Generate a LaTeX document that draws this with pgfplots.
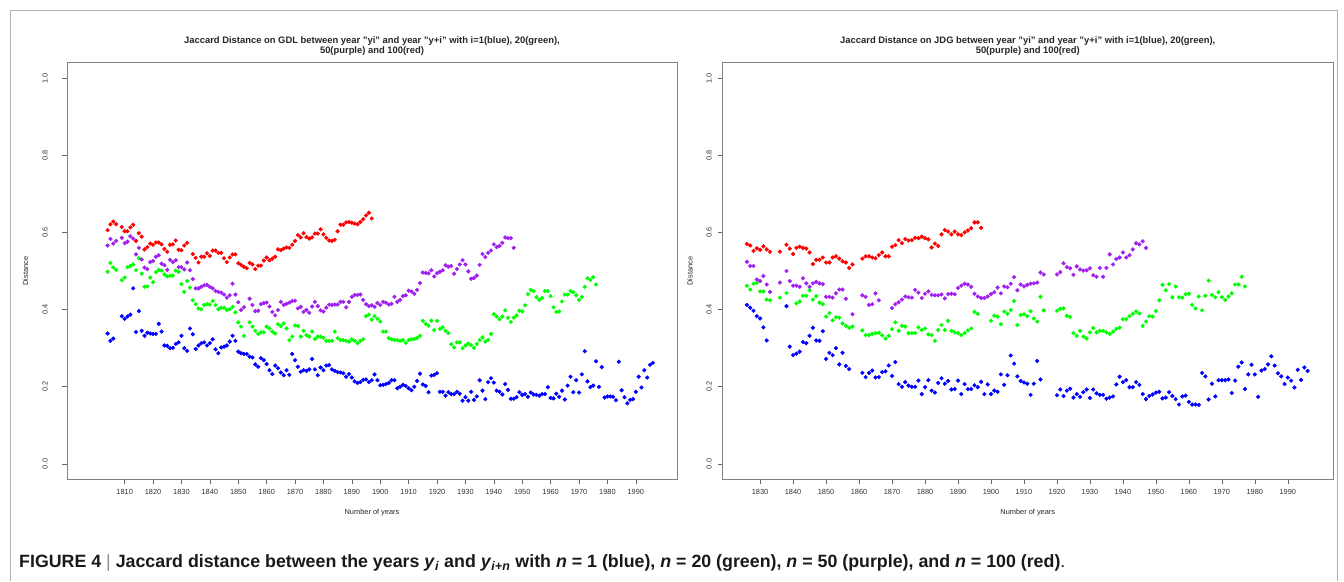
\documentclass[border=0pt]{standalone}
\usepackage{fontspec}
\setmainfont{Liberation Sans}
\usepackage{pgfplots}
\pgfplotsset{compat=1.18}
\definecolor{rblue}{RGB}{0,0,255}
\definecolor{rgreen}{RGB}{0,255,0}
\definecolor{rpurple}{RGB}{160,32,240}
\definecolor{rred}{RGB}{255,0,0}
\pgfplotsset{
  jd/.style={
    scale only axis, anchor=south west, height=416.8pt,
    ymin=-0.04, ymax=1.04,
    ytick={0,0.2,0.4,0.6,0.8,1.0},
    yticklabels={0.0,0.2,0.4,0.6,0.8,1.0},
    tick align=outside, major tick length=5pt,
    xtick pos=bottom, ytick pos=left,
    tick style={black!60, line width=0.6pt},
    axis line style={black!50, line width=0.7pt},
    xticklabel style={anchor=north, inner sep=0pt, font=\fontsize{7.4}{8}\selectfont, text=black!80},
    yticklabel style={rotate=90, anchor=south, inner sep=0pt, font=\fontsize{7.4}{8}\selectfont, text=black!80},
    xticklabel shift=5pt,
    xlabel={Number of years}, ylabel={Distance},
    xlabel style={at={(axis description cs:0.5,0)}, anchor=center, yshift=-33.5pt, font=\fontsize{7.4}{8}\selectfont, text=black!85},
    ylabel style={anchor=center, font=\fontsize{7.4}{8}\selectfont, text=black!85},
    title style={at={(axis description cs:0.5,1)}, anchor=center, yshift=10.6pt, align=center, font=\fontsize{9.4}{10.2}\selectfont\bfseries, text=black!85},
    clip=false,
  },
  dots/.style={only marks, mark=*, mark size=1.9pt, color=#1, fill=#1},
}
\begin{document}
\begin{tikzpicture}
\path[use as bounding box] (0pt,0pt) rectangle (1344pt,581pt);
\draw[black!30, line width=0.8pt] (10pt,0pt) -- (10pt,571pt) -- (1337pt,571pt) -- (1337pt,0pt);

% ---------------- Left panel (GDL) ----------------
\begin{axis}[jd, at={(67pt,101.6pt)}, width=610pt,
  xmin=1789.7, xmax=2004.5,
  xtick={1810,1820,1830,1840,1850,1860,1870,1880,1890,1900,1910,1920,1930,1940,1950,1960,1970,1980,1990},
  xticklabels={1810,1820,1830,1840,1850,1860,1870,1880,1890,1900,1910,1920,1930,1940,1950,1960,1970,1980,1990},
  yticklabel shift=14pt,
  ylabel style={at={(axis description cs:-0.068,0.5)}},
  title={Jaccard Distance on GDL between year "yi" and year "y+i" with i=1(blue), 20(green),\\50(purple) and 100(red)}]
\addplot[dots=rblue] coordinates {
(1804,0.338)(1805,0.319)(1806,0.325)(1809,0.383)(1810,0.376)(1811,0.382)(1812,0.387)(1813,0.455)(1814,0.342)(1815,0.396)(1816,0.345)(1817,0.332)(1818,0.340)(1819,0.338)(1820,0.337)(1821,0.337)(1822,0.363)(1823,0.343)(1824,0.307)(1825,0.306)(1826,0.300)(1827,0.301)(1828,0.311)(1829,0.315)(1830,0.332)(1831,0.300)(1832,0.293)(1833,0.351)(1834,0.336)(1835,0.298)(1836,0.307)(1837,0.313)(1838,0.315)(1839,0.307)(1840,0.313)(1841,0.323)(1842,0.297)(1843,0.287)(1844,0.302)(1845,0.304)(1846,0.307)(1847,0.317)(1848,0.332)(1849,0.319)(1850,0.291)(1851,0.287)(1852,0.285)(1853,0.285)(1854,0.278)(1855,0.276)(1856,0.258)(1857,0.252)(1858,0.274)(1859,0.269)(1860,0.259)(1861,0.243)(1862,0.233)(1863,0.255)(1864,0.248)(1865,0.237)(1866,0.230)(1867,0.243)(1868,0.231)(1869,0.285)(1870,0.269)(1871,0.252)(1872,0.239)(1873,0.243)(1874,0.241)(1875,0.245)(1876,0.272)(1877,0.245)(1878,0.230)(1879,0.250)(1880,0.243)(1881,0.255)(1882,0.256)(1883,0.245)(1884,0.241)(1885,0.238)(1886,0.237)(1887,0.235)(1888,0.226)(1889,0.233)(1890,0.224)(1891,0.214)(1892,0.210)(1893,0.212)(1894,0.218)(1895,0.219)(1896,0.212)(1897,0.217)(1898,0.232)(1899,0.217)(1900,0.204)(1901,0.205)(1902,0.207)(1903,0.210)(1904,0.217)(1905,0.217)(1906,0.196)(1907,0.200)(1908,0.205)(1909,0.202)(1910,0.196)(1911,0.191)(1912,0.200)(1913,0.215)(1914,0.234)(1915,0.206)(1916,0.202)(1917,0.186)(1918,0.229)(1919,0.231)(1920,0.235)(1921,0.187)(1922,0.187)(1923,0.177)(1924,0.186)(1925,0.181)(1926,0.181)(1927,0.187)(1928,0.182)(1929,0.164)(1930,0.173)(1931,0.164)(1932,0.187)(1933,0.166)(1934,0.175)(1935,0.217)(1936,0.190)(1937,0.168)(1938,0.212)(1939,0.222)(1940,0.211)(1941,0.190)(1942,0.187)(1943,0.180)(1944,0.207)(1945,0.192)(1946,0.169)(1947,0.169)(1948,0.173)(1949,0.186)(1950,0.179)(1951,0.181)(1952,0.174)(1953,0.185)(1954,0.180)(1955,0.179)(1956,0.177)(1957,0.181)(1958,0.181)(1959,0.199)(1960,0.171)(1961,0.170)(1962,0.182)(1963,0.174)(1964,0.190)(1965,0.167)(1966,0.203)(1967,0.226)(1968,0.186)(1969,0.217)(1970,0.185)(1971,0.232)(1972,0.292)(1973,0.214)(1974,0.199)(1975,0.203)(1976,0.266)(1977,0.200)(1978,0.251)(1979,0.172)(1980,0.175)(1981,0.175)(1982,0.174)(1983,0.165)(1984,0.265)(1985,0.191)(1986,0.173)(1987,0.157)(1988,0.166)(1989,0.168)(1990,0.187)(1991,0.226)(1992,0.198)(1993,0.243)(1994,0.224)(1995,0.257)(1996,0.262)
};
\addplot[dots=rgreen] coordinates {
(1804,0.498)(1805,0.521)(1806,0.509)(1807,0.503)(1809,0.476)(1810,0.483)(1811,0.510)(1812,0.513)(1813,0.517)(1814,0.502)(1815,0.533)(1816,0.493)(1817,0.459)(1818,0.460)(1819,0.483)(1820,0.471)(1821,0.497)(1822,0.503)(1823,0.501)(1824,0.491)(1825,0.486)(1826,0.488)(1827,0.488)(1828,0.501)(1829,0.498)(1830,0.466)(1831,0.446)(1832,0.474)(1833,0.457)(1834,0.424)(1835,0.414)(1836,0.403)(1837,0.401)(1838,0.412)(1839,0.414)(1840,0.413)(1841,0.422)(1842,0.412)(1843,0.401)(1844,0.405)(1845,0.405)(1846,0.399)(1847,0.401)(1848,0.407)(1849,0.393)(1850,0.367)(1851,0.356)(1852,0.332)(1854,0.367)(1855,0.356)(1856,0.345)(1857,0.337)(1858,0.341)(1859,0.341)(1860,0.356)(1861,0.351)(1862,0.343)(1863,0.338)(1864,0.362)(1865,0.357)(1866,0.364)(1867,0.351)(1868,0.321)(1869,0.330)(1870,0.359)(1871,0.357)(1872,0.330)(1873,0.345)(1874,0.334)(1875,0.330)(1876,0.343)(1877,0.324)(1878,0.330)(1879,0.330)(1880,0.327)(1881,0.319)(1882,0.319)(1883,0.319)(1884,0.343)(1885,0.326)(1886,0.321)(1887,0.321)(1888,0.319)(1889,0.317)(1890,0.323)(1891,0.319)(1892,0.313)(1893,0.319)(1894,0.323)(1895,0.383)(1896,0.387)(1897,0.374)(1898,0.383)(1899,0.376)(1900,0.369)(1901,0.343)(1902,0.343)(1903,0.326)(1904,0.323)(1905,0.321)(1906,0.321)(1907,0.319)(1908,0.321)(1909,0.314)(1910,0.321)(1911,0.323)(1912,0.324)(1913,0.326)(1914,0.332)(1915,0.371)(1916,0.363)(1917,0.358)(1918,0.371)(1919,0.347)(1920,0.371)(1921,0.350)(1922,0.354)(1923,0.345)(1924,0.339)(1925,0.310)(1926,0.302)(1927,0.315)(1928,0.315)(1929,0.300)(1930,0.307)(1931,0.312)(1932,0.308)(1933,0.301)(1934,0.311)(1935,0.321)(1936,0.328)(1937,0.317)(1938,0.321)(1939,0.337)(1940,0.388)(1941,0.382)(1942,0.375)(1943,0.382)(1944,0.398)(1945,0.379)(1946,0.368)(1947,0.379)(1948,0.385)(1949,0.397)(1950,0.395)(1951,0.411)(1952,0.440)(1953,0.451)(1954,0.448)(1955,0.432)(1956,0.425)(1957,0.430)(1958,0.448)(1959,0.448)(1960,0.435)(1961,0.406)(1962,0.394)(1963,0.395)(1964,0.421)(1965,0.439)(1966,0.439)(1967,0.448)(1968,0.445)(1969,0.437)(1970,0.425)(1971,0.433)(1972,0.459)(1973,0.481)(1974,0.477)(1975,0.484)(1976,0.465)
};
\addplot[dots=rpurple] coordinates {
(1804,0.566)(1805,0.583)(1806,0.571)(1807,0.578)(1809,0.586)(1810,0.572)(1811,0.576)(1812,0.590)(1813,0.584)(1814,0.543)(1815,0.560)(1816,0.530)(1817,0.509)(1818,0.505)(1819,0.523)(1820,0.526)(1821,0.537)(1822,0.541)(1823,0.519)(1824,0.515)(1825,0.503)(1826,0.529)(1827,0.523)(1828,0.528)(1829,0.510)(1830,0.510)(1831,0.504)(1832,0.522)(1833,0.502)(1834,0.479)(1835,0.455)(1836,0.455)(1837,0.459)(1838,0.463)(1839,0.464)(1840,0.459)(1841,0.455)(1842,0.448)(1843,0.446)(1844,0.444)(1845,0.439)(1846,0.431)(1847,0.437)(1848,0.467)(1849,0.439)(1850,0.419)(1851,0.399)(1852,0.406)(1854,0.428)(1855,0.412)(1856,0.396)(1857,0.397)(1858,0.414)(1859,0.417)(1860,0.418)(1861,0.408)(1862,0.394)(1863,0.385)(1864,0.399)(1865,0.420)(1866,0.412)(1867,0.415)(1868,0.418)(1869,0.422)(1870,0.423)(1871,0.403)(1872,0.407)(1873,0.394)(1874,0.399)(1875,0.392)(1876,0.408)(1877,0.420)(1878,0.409)(1879,0.398)(1880,0.395)(1881,0.405)(1882,0.413)(1883,0.412)(1884,0.413)(1885,0.413)(1886,0.420)(1887,0.420)(1888,0.406)(1889,0.420)(1890,0.433)(1891,0.438)(1892,0.438)(1893,0.439)(1894,0.425)(1895,0.414)(1896,0.409)(1897,0.411)(1898,0.407)(1899,0.417)(1900,0.412)(1901,0.420)(1902,0.418)(1903,0.413)(1904,0.415)(1905,0.433)(1906,0.420)(1907,0.425)(1908,0.435)(1909,0.437)(1910,0.449)(1911,0.447)(1912,0.441)(1913,0.451)(1914,0.469)(1915,0.496)(1916,0.495)(1917,0.494)(1918,0.502)(1919,0.486)(1920,0.494)(1921,0.498)(1922,0.502)(1923,0.515)(1924,0.511)(1925,0.513)(1926,0.493)(1927,0.505)(1928,0.517)(1929,0.528)(1930,0.517)(1931,0.499)(1932,0.480)(1933,0.482)(1934,0.488)(1935,0.516)(1936,0.544)(1937,0.536)(1938,0.547)(1939,0.553)(1940,0.569)(1941,0.562)(1942,0.565)(1943,0.573)(1944,0.587)(1945,0.585)(1946,0.585)(1947,0.560)
};
\addplot[dots=rred] coordinates {
(1804,0.606)(1805,0.621)(1806,0.628)(1807,0.621)(1809,0.614)(1810,0.603)(1811,0.603)(1812,0.613)(1813,0.620)(1814,0.578)(1815,0.598)(1816,0.589)(1817,0.556)(1818,0.562)(1819,0.571)(1820,0.568)(1821,0.574)(1822,0.574)(1823,0.569)(1824,0.557)(1825,0.550)(1826,0.568)(1827,0.569)(1828,0.579)(1829,0.555)(1830,0.554)(1831,0.566)(1832,0.573)(1834,0.544)(1835,0.534)(1836,0.522)(1837,0.537)(1838,0.537)(1839,0.546)(1840,0.539)(1841,0.553)(1842,0.553)(1843,0.547)(1844,0.547)(1845,0.533)(1846,0.523)(1847,0.535)(1848,0.543)(1849,0.543)(1850,0.520)(1851,0.516)(1852,0.511)(1853,0.507)(1854,0.521)(1855,0.517)(1856,0.505)(1857,0.514)(1858,0.514)(1859,0.527)(1860,0.535)(1861,0.528)(1862,0.532)(1863,0.537)(1864,0.556)(1865,0.554)(1866,0.558)(1867,0.561)(1868,0.560)(1869,0.568)(1870,0.578)(1871,0.593)(1872,0.587)(1873,0.598)(1874,0.588)(1875,0.584)(1876,0.587)(1877,0.597)(1878,0.597)(1879,0.608)(1880,0.595)(1881,0.586)(1882,0.579)(1883,0.578)(1884,0.581)(1885,0.603)(1886,0.620)(1887,0.620)(1888,0.626)(1889,0.627)(1890,0.625)(1891,0.623)(1892,0.621)(1893,0.627)(1894,0.634)(1895,0.644)(1896,0.651)(1897,0.636)
};
\end{axis}

% ---------------- Right panel (JDG) ----------------
\begin{axis}[jd, at={(722.5pt,101.6pt)}, width=610.5pt,
  xmin=1818.6, xmax=2003.7,
  xtick={1830,1840,1850,1860,1870,1880,1890,1900,1910,1920,1930,1940,1950,1960,1970,1980,1990},
  xticklabels={1830,1840,1850,1860,1870,1880,1890,1900,1910,1920,1930,1940,1950,1960,1970,1980,1990},
  yticklabel shift=5.5pt,
  ylabel style={at={(axis description cs:-0.0534,0.5)}},
  title={Jaccard Distance on JDG between year "yi" and year "y+i" with i=1(blue), 20(green),\\50(purple) and 100(red)}]
\addplot[dots=rblue] coordinates {
(1826,0.412)(1827,0.405)(1828,0.397)(1829,0.383)(1830,0.377)(1831,0.354)(1832,0.320)(1838,0.409)(1839,0.304)(1840,0.282)(1841,0.286)(1842,0.291)(1843,0.316)(1844,0.313)(1845,0.332)(1846,0.353)(1847,0.320)(1848,0.319)(1849,0.344)(1850,0.272)(1851,0.288)(1852,0.282)(1853,0.300)(1854,0.258)(1855,0.288)(1856,0.254)(1857,0.246)(1861,0.236)(1862,0.225)(1863,0.236)(1864,0.242)(1865,0.224)(1866,0.225)(1867,0.238)(1868,0.240)(1869,0.255)(1870,0.228)(1871,0.264)(1872,0.207)(1873,0.200)(1874,0.212)(1875,0.203)(1876,0.200)(1877,0.200)(1878,0.216)(1879,0.181)(1880,0.199)(1881,0.217)(1882,0.190)(1883,0.185)(1884,0.210)(1885,0.222)(1886,0.208)(1887,0.215)(1888,0.193)(1889,0.194)(1890,0.216)(1891,0.181)(1892,0.207)(1893,0.194)(1894,0.194)(1895,0.204)(1896,0.199)(1897,0.213)(1898,0.181)(1899,0.206)(1900,0.181)(1901,0.190)(1902,0.187)(1903,0.232)(1904,0.205)(1905,0.230)(1906,0.281)(1907,0.260)(1908,0.227)(1909,0.215)(1910,0.211)(1911,0.208)(1912,0.179)(1913,0.208)(1914,0.267)(1915,0.219)(1920,0.178)(1921,0.193)(1922,0.176)(1923,0.190)(1924,0.195)(1925,0.172)(1926,0.181)(1927,0.174)(1928,0.186)(1929,0.193)(1930,0.171)(1931,0.193)(1932,0.183)(1933,0.179)(1934,0.179)(1935,0.169)(1936,0.172)(1937,0.175)(1938,0.206)(1939,0.226)(1940,0.212)(1941,0.217)(1942,0.199)(1943,0.199)(1944,0.212)(1945,0.205)(1946,0.181)(1947,0.168)(1948,0.176)(1949,0.180)(1950,0.185)(1951,0.187)(1952,0.170)(1953,0.172)(1954,0.186)(1955,0.176)(1956,0.168)(1957,0.154)(1958,0.175)(1959,0.177)(1960,0.161)(1961,0.154)(1962,0.154)(1963,0.153)(1964,0.236)(1965,0.227)(1966,0.167)(1967,0.208)(1968,0.175)(1969,0.217)(1970,0.217)(1971,0.217)(1972,0.219)(1973,0.184)(1974,0.216)(1975,0.252)(1976,0.263)(1977,0.194)(1978,0.232)(1979,0.257)(1980,0.232)(1981,0.174)(1982,0.242)(1983,0.246)(1984,0.258)(1985,0.279)(1986,0.255)(1987,0.235)(1988,0.227)(1989,0.207)(1990,0.224)(1991,0.216)(1992,0.198)(1993,0.244)(1994,0.218)(1995,0.250)(1996,0.241)
};
\addplot[dots=rgreen] coordinates {
(1826,0.462)(1827,0.452)(1828,0.467)(1829,0.469)(1830,0.447)(1831,0.447)(1832,0.426)(1833,0.424)(1836,0.431)(1838,0.443)(1841,0.416)(1842,0.421)(1843,0.436)(1844,0.436)(1845,0.450)(1846,0.426)(1847,0.435)(1848,0.418)(1849,0.414)(1850,0.382)(1851,0.391)(1852,0.372)(1853,0.380)(1854,0.379)(1855,0.364)(1856,0.358)(1857,0.353)(1858,0.356)(1861,0.346)(1862,0.334)(1863,0.334)(1864,0.337)(1865,0.339)(1866,0.340)(1867,0.333)(1868,0.325)(1869,0.332)(1870,0.349)(1871,0.367)(1872,0.345)(1873,0.358)(1874,0.356)(1875,0.339)(1876,0.339)(1877,0.339)(1878,0.354)(1879,0.347)(1880,0.351)(1881,0.336)(1882,0.334)(1883,0.319)(1884,0.347)(1885,0.360)(1886,0.347)(1887,0.371)(1888,0.345)(1889,0.341)(1890,0.339)(1891,0.334)(1892,0.339)(1893,0.346)(1894,0.351)(1895,0.394)(1896,0.389)(1900,0.371)(1901,0.384)(1902,0.382)(1903,0.362)(1904,0.395)(1905,0.389)(1906,0.399)(1907,0.422)(1908,0.360)(1909,0.386)(1910,0.388)(1911,0.383)(1912,0.396)(1913,0.377)(1914,0.369)(1915,0.433)(1916,0.398)(1920,0.397)(1921,0.402)(1922,0.403)(1923,0.384)(1924,0.381)(1925,0.339)(1926,0.332)(1927,0.345)(1928,0.330)(1929,0.325)(1930,0.341)(1931,0.352)(1932,0.341)(1933,0.345)(1934,0.345)(1935,0.341)(1936,0.337)(1937,0.343)(1938,0.350)(1939,0.353)(1940,0.375)(1941,0.375)(1942,0.383)(1943,0.389)(1944,0.395)(1945,0.390)(1946,0.358)(1947,0.369)(1948,0.383)(1949,0.382)(1950,0.396)(1951,0.424)(1952,0.464)(1953,0.450)(1954,0.466)(1955,0.432)(1956,0.460)(1957,0.432)(1958,0.431)(1959,0.440)(1960,0.441)(1961,0.412)(1962,0.403)(1963,0.434)(1964,0.398)(1965,0.436)(1966,0.475)(1967,0.438)(1968,0.432)(1969,0.445)(1970,0.432)(1971,0.425)(1972,0.434)(1973,0.442)(1974,0.465)(1975,0.465)(1976,0.485)(1977,0.460)
};
\addplot[dots=rpurple] coordinates {
(1826,0.524)(1827,0.513)(1828,0.513)(1829,0.478)(1830,0.474)(1831,0.487)(1832,0.465)(1833,0.446)(1836,0.470)(1838,0.500)(1839,0.474)(1840,0.462)(1841,0.462)(1842,0.459)(1843,0.481)(1844,0.468)(1845,0.459)(1846,0.468)(1847,0.472)(1848,0.468)(1849,0.466)(1850,0.433)(1851,0.433)(1852,0.431)(1853,0.442)(1854,0.452)(1855,0.452)(1856,0.428)(1858,0.388)(1861,0.437)(1862,0.433)(1863,0.412)(1864,0.414)(1865,0.442)(1866,0.424)(1870,0.404)(1871,0.414)(1872,0.419)(1873,0.426)(1874,0.434)(1875,0.432)(1876,0.431)(1877,0.451)(1878,0.444)(1879,0.430)(1880,0.441)(1881,0.447)(1882,0.438)(1883,0.437)(1884,0.437)(1885,0.439)(1886,0.429)(1887,0.440)(1888,0.441)(1889,0.440)(1890,0.456)(1891,0.462)(1892,0.467)(1893,0.465)(1894,0.459)(1895,0.441)(1896,0.434)(1897,0.430)(1898,0.430)(1899,0.434)(1900,0.440)(1901,0.445)(1902,0.457)(1903,0.442)(1904,0.460)(1905,0.458)(1906,0.467)(1907,0.484)(1908,0.450)(1909,0.465)(1910,0.460)(1911,0.464)(1912,0.467)(1913,0.468)(1914,0.470)(1915,0.496)(1916,0.491)(1920,0.491)(1921,0.497)(1922,0.520)(1923,0.510)(1924,0.507)(1925,0.490)(1926,0.512)(1927,0.504)(1928,0.501)(1929,0.502)(1930,0.507)(1931,0.489)(1932,0.485)(1933,0.508)(1934,0.485)(1935,0.508)(1936,0.543)(1937,0.517)(1938,0.531)(1939,0.535)(1940,0.548)(1941,0.535)(1942,0.541)(1943,0.556)(1944,0.572)(1945,0.569)(1946,0.577)(1947,0.560)
};
\addplot[dots=rred] coordinates {
(1826,0.570)(1827,0.566)(1828,0.552)(1829,0.559)(1830,0.555)(1831,0.564)(1832,0.556)(1833,0.550)(1836,0.550)(1838,0.568)(1839,0.558)(1840,0.544)(1841,0.560)(1842,0.563)(1843,0.560)(1844,0.558)(1845,0.548)(1846,0.518)(1847,0.529)(1848,0.529)(1849,0.535)(1850,0.522)(1851,0.522)(1852,0.535)(1853,0.538)(1854,0.532)(1855,0.525)(1856,0.522)(1857,0.508)(1858,0.517)(1861,0.532)(1862,0.538)(1863,0.538)(1864,0.535)(1865,0.533)(1866,0.541)(1867,0.548)(1868,0.538)(1869,0.538)(1870,0.563)(1871,0.567)(1872,0.580)(1873,0.572)(1874,0.583)(1875,0.579)(1876,0.580)(1877,0.586)(1878,0.585)(1879,0.589)(1880,0.585)(1881,0.582)(1882,0.561)(1883,0.571)(1884,0.565)(1885,0.595)(1886,0.606)(1887,0.602)(1888,0.595)(1889,0.602)(1890,0.595)(1891,0.593)(1892,0.600)(1893,0.605)(1894,0.611)(1895,0.626)(1896,0.626)(1897,0.612)
};
\end{axis}

\node[anchor=west, inner sep=0pt, font=\fontsize{17.8}{20}\selectfont\bfseries, text=black!90] at (19pt,18pt)
 {FIGURE 4 {\color{black!45}\mdseries|} Jaccard distance between the years \textit{y}\textsubscript{\textit{i}} and \textit{y}\textsubscript{\textit{i}+\textit{n}} with \textit{n} = 1 (blue), \textit{n} = 20 (green), \textit{n} = 50 (purple), and \textit{n} = 100 (red)\mdseries.};
\end{tikzpicture}
\end{document}
